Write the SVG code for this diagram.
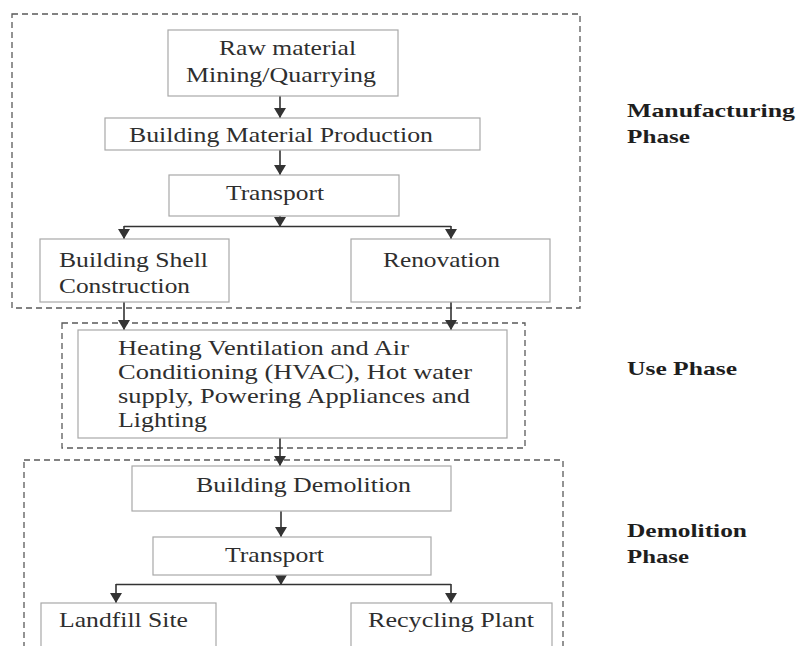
<svg xmlns="http://www.w3.org/2000/svg" width="797" height="646" viewBox="0 0 797 646">
<style>
.bg{fill:#ffffff}
.node rect{fill:#ffffff;stroke:#a8a8a8;stroke-width:1.2}
.node text{font-family:"Liberation Serif","Times New Roman",serif;font-size:21px;fill:#2e2e2e}
.phase{fill:none;stroke:#5a5a5a;stroke-width:1.3;stroke-dasharray:6 4}
.lbl{font-family:"Liberation Serif","Times New Roman",serif;font-size:19px;font-weight:bold;fill:#1e1e1e}
.conn line{fill:none;stroke:#333333;stroke-width:1.6}
.arr{marker-end:url(#ah)}
</style>
<defs>
<marker id="ah" markerUnits="userSpaceOnUse" markerWidth="10" markerHeight="12" refX="10" refY="6" orient="auto">
<path d="M0,0 L10,6 L0,12 z" fill="#333333"/>
</marker>
</defs>
<rect class="bg" x="0" y="0" width="797" height="646"/>

<g id="phases">
<rect class="phase" x="12" y="14" width="568" height="294"/>
<rect class="phase" x="62" y="323" width="463" height="125"/>
<rect class="phase" x="24" y="460" width="539" height="200"/>
</g>

<g id="phase-labels">
<text class="lbl" x="627" y="117" textLength="168" lengthAdjust="spacingAndGlyphs">Manufacturing</text>
<text class="lbl" x="627" y="143" textLength="63" lengthAdjust="spacingAndGlyphs">Phase</text>
<text class="lbl" x="627" y="375" textLength="110" lengthAdjust="spacingAndGlyphs">Use Phase</text>
<text class="lbl" x="627" y="537" textLength="120" lengthAdjust="spacingAndGlyphs">Demolition</text>
<text class="lbl" x="627" y="563" textLength="62" lengthAdjust="spacingAndGlyphs">Phase</text>
</g>

<g id="connectors" class="conn">
<line class="arr" x1="280" y1="96" x2="280" y2="118"/>
<line class="arr" x1="280" y1="150" x2="280" y2="175"/>
<line class="arr" x1="280" y1="216" x2="280" y2="227"/>
<line x1="124" y1="226.5" x2="451" y2="226.5"/>
<line class="arr" x1="124" y1="226" x2="124" y2="239"/>
<line class="arr" x1="451" y1="226" x2="451" y2="239"/>
<line class="arr" x1="124" y1="302" x2="124" y2="330"/>
<line class="arr" x1="451" y1="302" x2="451" y2="330"/>
<line class="arr" x1="280" y1="438" x2="280" y2="466"/>
<line class="arr" x1="281" y1="511" x2="281" y2="537"/>
<line class="arr" x1="281" y1="575" x2="281" y2="585"/>
<line x1="116" y1="584.5" x2="451" y2="584.5"/>
<line class="arr" x1="116" y1="584" x2="116" y2="603"/>
<line class="arr" x1="451" y1="584" x2="451" y2="603"/>
</g>

<g id="raw-material" class="node">
<rect x="168" y="30" width="230" height="66"/>
<text x="219" y="55" textLength="137" lengthAdjust="spacingAndGlyphs">Raw material</text>
<text x="186" y="82" textLength="190" lengthAdjust="spacingAndGlyphs">Mining/Quarrying</text>
</g>

<g id="material-production" class="node">
<rect x="105" y="118" width="375" height="32"/>
<text x="129" y="142" textLength="304" lengthAdjust="spacingAndGlyphs">Building Material Production</text>
</g>

<g id="transport-1" class="node">
<rect x="169" y="175" width="230" height="41"/>
<text x="226" y="200" textLength="98" lengthAdjust="spacingAndGlyphs">Transport</text>
</g>

<g id="shell-construction" class="node">
<rect x="40" y="239" width="189" height="63"/>
<text x="59" y="267" textLength="149" lengthAdjust="spacingAndGlyphs">Building Shell</text>
<text x="59" y="293" textLength="131" lengthAdjust="spacingAndGlyphs">Construction</text>
</g>

<g id="renovation" class="node">
<rect x="351" y="239" width="199" height="63"/>
<text x="383" y="267" textLength="117" lengthAdjust="spacingAndGlyphs">Renovation</text>
</g>

<g id="hvac" class="node">
<rect x="78" y="330" width="429" height="108"/>
<text x="118" y="355" textLength="291" lengthAdjust="spacingAndGlyphs">Heating Ventilation and Air</text>
<text x="118" y="379" textLength="354" lengthAdjust="spacingAndGlyphs">Conditioning (HVAC), Hot water</text>
<text x="118" y="403" textLength="352" lengthAdjust="spacingAndGlyphs">supply, Powering Appliances and</text>
<text x="118" y="427" textLength="89" lengthAdjust="spacingAndGlyphs">Lighting</text>
</g>

<g id="demolition" class="node">
<rect x="132" y="466" width="319" height="45"/>
<text x="196" y="492" textLength="215" lengthAdjust="spacingAndGlyphs">Building Demolition</text>
</g>

<g id="transport-2" class="node">
<rect x="153" y="537" width="278" height="38"/>
<text x="225" y="562" textLength="99" lengthAdjust="spacingAndGlyphs">Transport</text>
</g>

<g id="landfill" class="node">
<rect x="41" y="603" width="175" height="60"/>
<text x="59" y="627" textLength="129" lengthAdjust="spacingAndGlyphs">Landfill Site</text>
</g>

<g id="recycling" class="node">
<rect x="351" y="603" width="201" height="60"/>
<text x="368" y="627" textLength="166" lengthAdjust="spacingAndGlyphs">Recycling Plant</text>
</g>
</svg>
